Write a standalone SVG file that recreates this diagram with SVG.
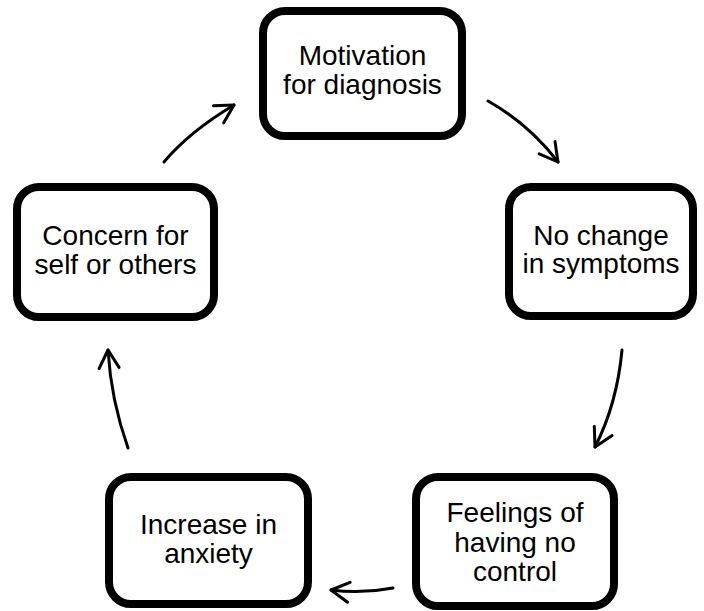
<svg xmlns="http://www.w3.org/2000/svg" width="704" height="611" viewBox="0 0 704 611">
  <style>
    .box { fill: #ffffff; stroke: #000000; stroke-width: 8; }
    .label { font-family: "Liberation Sans", Arial, sans-serif; font-size: 28px; fill: #000000; text-anchor: middle; }
    .flow { fill: none; stroke: #000000; stroke-width: 3; stroke-linecap: round; marker-end: url(#head); }
  </style>
  <defs>
    <marker id="head" markerUnits="userSpaceOnUse" markerWidth="40" markerHeight="40" refX="0" refY="0" viewBox="-25 -20 40 40" orient="auto" overflow="visible">
      <path d="M-18,-10 L0,0 L-18,10" fill="none" stroke="#000000" stroke-width="3" stroke-linecap="round" stroke-linejoin="round"/>
    </marker>
  </defs>
  <rect width="704" height="611" fill="#ffffff"/>

  <g id="connectors">
    <path class="flow" d="M164,162 Q189,132 234,105"/>
    <path class="flow" d="M488,101 Q529,124 558,162"/>
    <path class="flow" d="M622,350 Q617,404 595,447"/>
    <path class="flow" d="M393,588 Q362,594 331,590"/>
    <path class="flow" d="M128,448 Q111,400 108,350"/>
  </g>

  <g id="motivation">
    <rect class="box" x="263" y="11" width="199" height="125" rx="22"/>
    <text class="label" x="362.5" y="65">Motivation</text>
    <text class="label" x="362.5" y="94">for diagnosis</text>
  </g>

  <g id="no-change">
    <rect class="box" x="509" y="187" width="184" height="129" rx="22"/>
    <text class="label" x="601" y="245">No change</text>
    <text class="label" x="601" y="273">in symptoms</text>
  </g>

  <g id="no-control">
    <rect class="box" x="416" y="477" width="198" height="129" rx="22"/>
    <text class="label" x="515" y="522">Feelings of</text>
    <text class="label" x="515" y="552">having no</text>
    <text class="label" x="515" y="581">control</text>
  </g>

  <g id="anxiety">
    <rect class="box" x="109" y="477" width="199" height="127" rx="22"/>
    <text class="label" x="208.5" y="534">Increase in</text>
    <text class="label" x="208.5" y="563">anxiety</text>
  </g>

  <g id="concern">
    <rect class="box" x="17" y="187" width="197" height="130" rx="22"/>
    <text class="label" x="115.5" y="245">Concern for</text>
    <text class="label" x="115.5" y="274">self or others</text>
  </g>
</svg>
